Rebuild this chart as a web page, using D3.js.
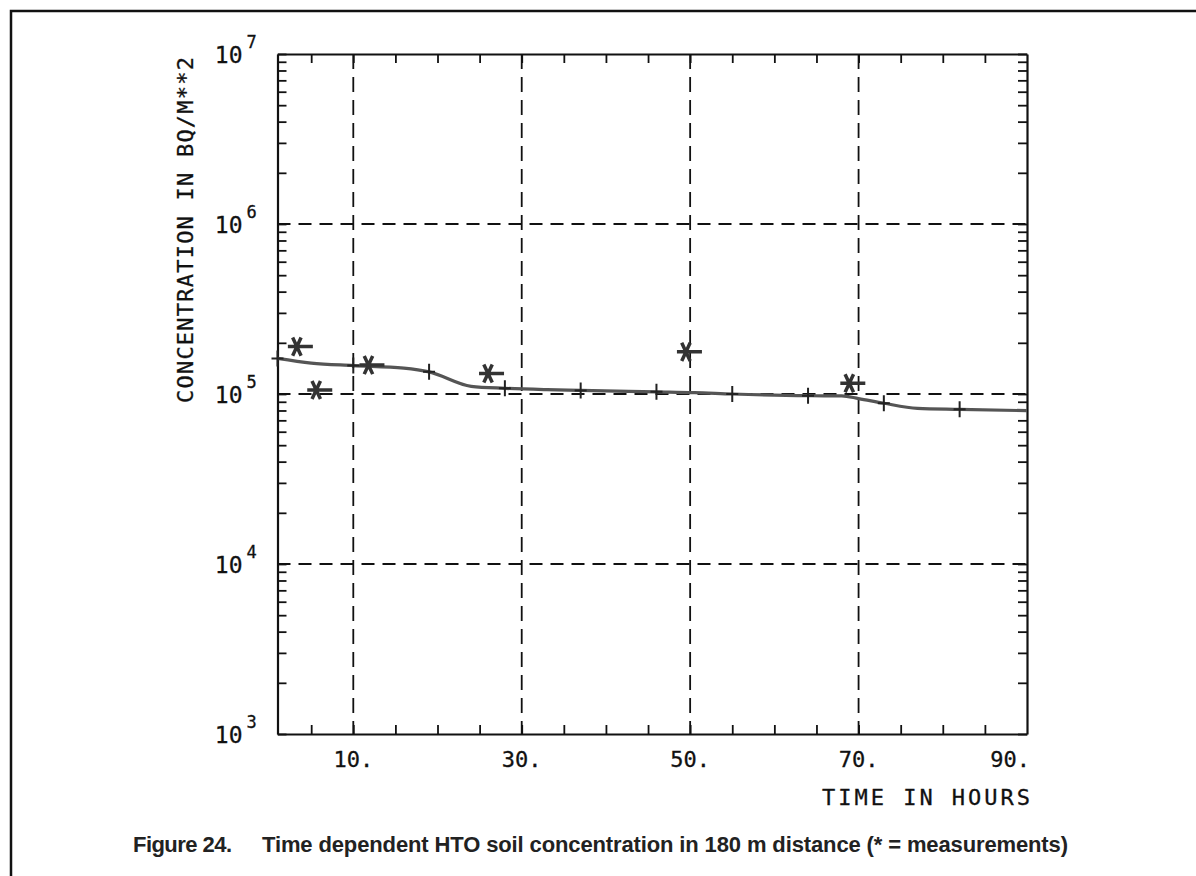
<!DOCTYPE html>
<html>
<head>
<meta charset="utf-8">
<script src="https://cdn.jsdelivr.net/npm/d3@7"></script>
<style>
  body { margin: 0; background: #fff; }
  svg { display: block; }
</style>
</head>
<body>
<svg id="chart" width="1196" height="876"></svg>
<script>
// model curve (hours, Bq/m2)
var curveHours  = [1, 5, 10, 16, 19, 24, 28, 33, 37, 46, 50.5, 55, 64, 68, 70, 73, 77, 82, 90];
var curveValues = [1.62e5, 1.52e5, 1.47e5, 1.42e5, 1.35e5, 1.11e5, 1.08e5, 1.06e5, 1.05e5, 1.03e5,
                   1.02e5, 1.0e5, 0.977e5, 0.975e5, 0.94e5, 0.882e5, 0.824e5, 0.813e5, 0.798e5];
// plus marks sitting on the curve
var markHours  = [1, 10, 19, 28, 37, 46, 55, 64, 73, 82];
var markValues = [1.62e5, 1.47e5, 1.35e5, 1.08e5, 1.05e5, 1.03e5, 1.0e5, 0.977e5, 0.882e5, 0.813e5];
// measurements (*)
var measHours  = [3.3, 5.6, 11.8, 26, 49.5, 68.9];
var measValues = [1.90e5, 1.056e5, 1.48e5, 1.32e5, 1.77e5, 1.156e5];

var xGrid = [10, 30, 50, 70];
var xLabels = ["10.", "30.", "50.", "70.", "90."];
var xLabelAt = [10, 30, 50, 70, 90];
var xTicks = [5, 10, 15, 20, 25, 30, 35, 40, 45, 50, 55, 60, 65, 70, 75, 80, 85];
var yDecades = [1e3, 1e4, 1e5, 1e6, 1e7];
var yExp = ["3", "4", "5", "6", "7"];
var yGrid = [1e4, 1e5, 1e6];

var plotFont = "'DejaVu Sans Mono', 'Liberation Mono', monospace";

var svg = d3.select("#chart");
svg.append("rect").attr("width", 1196).attr("height", 876).attr("fill", "#fff");

// page border (scan edge)
svg.append("path").attr("d", "M11,876 V11 H1196")
   .attr("fill", "none").attr("stroke", "#111").attr("stroke-width", 2.5);

var x = d3.scaleLinear().domain([1, 90]).range([277.5, 1027]);
var y = d3.scaleLog().domain([1e3, 1e7]).range([734, 54]);

// minor y ticks 2..9 per decade plus decades
var yTicks = [];
yDecades.forEach(function(d, i){
  yTicks.push(d);
  if (i < yDecades.length - 1) for (var k = 2; k < 10; k++) yTicks.push(d * k);
});

// grid
svg.append("g").selectAll("line").data(xGrid).enter().append("line")
  .attr("x1", d => x(d)).attr("x2", d => x(d))
  .attr("y1", y(1e7)).attr("y2", y(1e3))
  .attr("stroke", "#111").attr("stroke-width", 1.8).attr("stroke-dasharray", "15,8");
svg.append("g").selectAll("line").data(yGrid).enter().append("line")
  .attr("x1", x(1)).attr("x2", x(90))
  .attr("y1", d => y(d)).attr("y2", d => y(d))
  .attr("stroke", "#111").attr("stroke-width", 1.8).attr("stroke-dasharray", "13,8");

// axes as frame with inward ticks
function styleAxis(g) {
  g.selectAll("path.domain").attr("stroke", "#111").attr("stroke-width", 2.2);
  g.selectAll(".tick line").attr("stroke", "#111").attr("stroke-width", 1.8);
}
svg.append("g").attr("transform", "translate(0," + y(1e3) + ")")
  .call(d3.axisBottom(x).tickValues(xTicks).tickSize(-9).tickSizeOuter(0).tickFormat(""))
  .call(styleAxis);
svg.append("g").attr("transform", "translate(0," + y(1e7) + ")")
  .call(d3.axisTop(x).tickValues(xTicks).tickSize(-9).tickSizeOuter(0).tickFormat(""))
  .call(styleAxis);
svg.append("g").attr("transform", "translate(" + x(1) + ",0)")
  .call(d3.axisLeft(y).tickValues(yTicks).tickSize(-9).tickSizeOuter(0).tickFormat(""))
  .call(styleAxis);
svg.append("g").attr("transform", "translate(" + x(90) + ",0)")
  .call(d3.axisRight(y).tickValues(yTicks).tickSize(-9).tickSizeOuter(0).tickFormat(""))
  .call(styleAxis);

// x labels
svg.append("g").selectAll("text").data(xLabels).enter().append("text")
  .attr("x", (d, i) => i === xLabels.length - 1 ? x(xLabelAt[i]) + 3 : x(xLabelAt[i]))
  .attr("y", y(1e3) + 33)
  .attr("text-anchor", (d, i) => i === xLabels.length - 1 ? "end" : "middle")
  .attr("font-family", plotFont).attr("font-size", 22).attr("fill", "#111")
  .attr("stroke", "#111").attr("stroke-width", 0.3)
  .text(d => d);
svg.append("text").attr("x", x(90) + 3).attr("y", y(1e3) + 71)
  .attr("text-anchor", "end").attr("font-family", plotFont).attr("font-size", 22)
  .attr("textLength", 208).attr("fill", "#111")
  .attr("stroke", "#111").attr("stroke-width", 0.3).text("TIME IN HOURS");

// y labels 10^n
var yl = svg.append("g").selectAll("g").data(yDecades).enter().append("g");
yl.append("text").attr("x", x(1) - 35).attr("y", d => y(d) + 9)
  .attr("text-anchor", "end").attr("font-family", plotFont).attr("font-size", 23)
  .attr("fill", "#111").attr("stroke", "#111").attr("stroke-width", 0.3).text("10");
yl.append("text").attr("x", x(1) - 31).attr("y", d => y(d) - 6)
  .attr("font-family", plotFont).attr("font-size", 17)
  .attr("fill", "#111").attr("stroke", "#111").attr("stroke-width", 0.3).text((d, i) => yExp[i]);

svg.append("text").attr("transform", "translate(193,230) rotate(-90)")
  .attr("text-anchor", "middle").attr("font-family", plotFont).attr("font-size", 22)
  .attr("textLength", 346).attr("fill", "#111")
  .attr("stroke", "#111").attr("stroke-width", 0.3).text("CONCENTRATION IN BQ/M**2");

// model curve
var line = d3.line().x(d => x(d[0])).y(d => y(d[1])).curve(d3.curveMonotoneX);
svg.append("path").datum(curveHours.map((h, i) => [h, curveValues[i]]))
  .attr("d", line).attr("fill", "none").attr("stroke", "#555").attr("stroke-width", 3.2);

svg.append("g").selectAll("path").data(markHours).enter().append("path")
  .attr("d", (d, i) => {
    var cx = x(d), cy = y(markValues[i]);
    return "M" + cx + "," + (cy - 8) + "V" + (cy + 8) + "M" + (cx - 6) + "," + cy + "H" + (cx + 6);
  })
  .attr("stroke", "#222").attr("stroke-width", 2).attr("fill", "none");

// measurement stars
svg.append("g").selectAll("path").data(measHours).enter().append("path")
  .attr("d", (d, i) => {
    var cx = x(d), cy = y(measValues[i]);
    var p = "M" + (cx - 9) + "," + cy + "H" + (cx + 16);
    [65, 115].forEach(function(a){
      var r = a * Math.PI / 180, dx = 10 * Math.cos(r), dy = 10 * Math.sin(r);
      p += "M" + (cx - dx) + "," + (cy - dy) + "L" + (cx + dx) + "," + (cy + dy);
    });
    return p;
  })
  .attr("stroke", "#333").attr("stroke-width", 3.5).attr("fill", "none");

// caption
var capFont = "'Liberation Sans', Arial, Helvetica, sans-serif";
svg.append("text").attr("x", 133).attr("y", 852)
  .attr("font-family", capFont).attr("font-weight", "bold").attr("font-size", 22)
  .attr("textLength", 99).attr("fill", "#222").text("Figure 24.");
svg.append("text").attr("x", 262).attr("y", 852)
  .attr("font-family", capFont).attr("font-weight", "bold").attr("font-size", 22)
  .attr("textLength", 806).attr("fill", "#222")
  .text("Time dependent HTO soil concentration in 180 m distance (* = measurements)");
</script>
</body>
</html>
